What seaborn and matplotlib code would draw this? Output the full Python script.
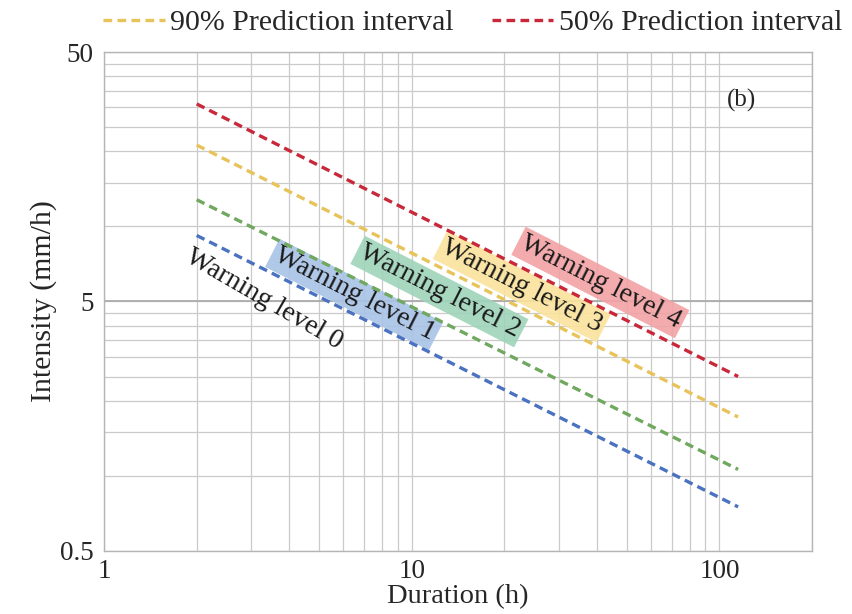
import numpy as np
import pandas as pd
import seaborn as sns
from matplotlib import pyplot as plt
from matplotlib.lines import Line2D

# data (log-log straight lines)
durations = [2, 115]
level0 = [9.2, 0.75]
level1 = [12.8, 1.06]
level2 = [21.2, 1.72]
level3 = [31.0, 2.5]

series_names = ['Warning level 0', 'Warning level 1', 'Warning level 2', 'Warning level 3']
series_values = [level0, level1, level2, level3]
line_colors = ['#4A72C0', '#6FA85E', '#E7C35A', '#C8283A']

label_texts = ['Warning level 0', 'Warning level 1', 'Warning level 2',
               'Warning level 3', 'Warning level 4']
label_x = [3.3, 6.5, 12.3, 22.8, 41.0]
label_y = [5.1, 5.33, 5.48, 5.74, 5.96]
label_rot = [-30, -27, -27, -27, -27]
label_boxes = [None, '#A9C3E6', '#9FD4BA', '#FBE39C', '#F2A2A4']

legend_labels = ['90% Prediction interval', '50% Prediction interval']
legend_colors = ['#E7C35A', '#C8283A']

x_ticks = [1, 10, 100]
x_ticklabels = ['1', '10', '100']
y_ticks = [0.5, 5, 50]
y_ticklabels = ['0.5', '5', '50']

df = pd.DataFrame({
    'Duration': np.tile(durations, len(series_names)),
    'Intensity': np.concatenate(series_values),
    'series': np.repeat(series_names, len(durations)),
})

sns.set_style('white')
plt.rcParams['font.family'] = ['Liberation Serif', 'DejaVu Serif']

dash = (0, (2.6, 1.6))

fig = plt.figure(figsize=(8.53, 6.14), dpi=100)
ax = fig.add_axes([0.122, 0.103, 0.830, 0.812])
ax.set_xscale('log')
ax.set_yscale('log')

sns.lineplot(data=df, x='Duration', y='Intensity', hue='series',
             palette=line_colors, linestyle=dash, linewidth=2.4,
             legend=False, ax=ax, zorder=3)

ax.set_xlim(1, 200)
ax.set_ylim(0.5, 50)

# grid: 1..9 multiples on x, steps of 0.5 / 5 on y
xgrid = [m * 10 ** e for e in range(0, 3) for m in range(1, 10) if m * 10 ** e <= 200]
ygrid = list(np.arange(0.5, 5.01, 0.5)) + list(np.arange(10, 50.1, 5))
for gx in xgrid:
    ax.axvline(gx, color='#CACACA', linewidth=0.9, zorder=0)
for gy in ygrid:
    ax.axhline(gy, color='#CACACA', linewidth=0.9, zorder=0)
ax.axhline(5, color='#ABABAB', linewidth=1.3, zorder=0)

for sp in ax.spines.values():
    sp.set_color('#B5B5B5')
    sp.set_linewidth(1.0)

ax.set_xticks(x_ticks)
ax.set_xticklabels(x_ticklabels)
ax.set_yticks(y_ticks)
ax.set_yticklabels(y_ticklabels)
ax.minorticks_off()
ax.tick_params(axis='both', which='major', labelsize=19.5, length=4.5,
               color='#A0A0A0', direction='out', pad=3)
ax.tick_params(axis='x', pad=1.5)

ax.set_xlabel('Duration (h)', fontsize=20.5, labelpad=0)
ax.set_ylabel('Intensity (mm/h)', fontsize=21.5, labelpad=2)

for txt, lx, ly, rot, bc in zip(label_texts, label_x, label_y, label_rot, label_boxes):
    kw = {}
    if bc is not None:
        kw['bbox'] = dict(boxstyle='square,pad=0.12', facecolor=bc,
                          edgecolor='none', alpha=0.9)
    ax.text(lx, ly, txt, fontsize=20, rotation=rot, rotation_mode='anchor',
            ha='center', va='center', color='#1A1A1A', zorder=2, **kw)

ax.text(0.9, 0.904, '(b)', transform=ax.transAxes, fontsize=18,
        ha='center', va='center')

handles = [Line2D([0], [0], color=c, linestyle=dash, linewidth=2.4)
           for c in legend_colors]
fig.legend(handles, legend_labels, loc='center left', bbox_to_anchor=(0.121, 0.963),
           ncol=2, frameon=False, fontsize=21.5, handlelength=2.07,
           handletextpad=0.17, columnspacing=1.27, borderpad=0, borderaxespad=0)

fig.savefig('out.png', dpi=100)
